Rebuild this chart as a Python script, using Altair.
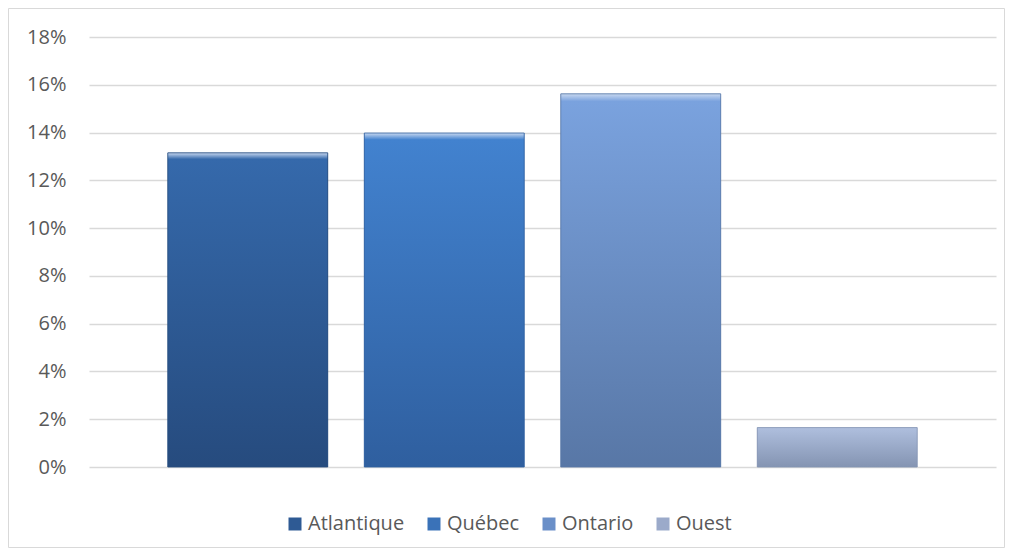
import altair as alt
import pandas as pd

regions = ["Atlantique", "Québec", "Ontario", "Ouest"]
values = [0.1315, 0.1398, 0.1562, 0.0165]
flat_colors = ["#2E5A94", "#3A72B8", "#6A8FC8", "#9BAACA"]
top_colors = ["#3569AB", "#4282CF", "#7AA2DE", "#AEBEDD"]
bottom_colors = ["#264B7E", "#2F5F9F", "#5877A6", "#8494B2"]
y_ticks = [0, 0.02, 0.04, 0.06, 0.08, 0.10, 0.12, 0.14, 0.16, 0.18]

df = pd.DataFrame({"region": regions, "value": values})

FONT = "Open Sans"
TXT = "#595959"

x_enc = alt.X("region:N", sort=regions, axis=None,
              scale=alt.Scale(paddingInner=0.186, paddingOuter=0.401))
y_enc = alt.Y("value:Q",
              scale=alt.Scale(domain=[0, 0.18], nice=False),
              axis=alt.Axis(values=y_ticks, format=".0%", title=None,
                            domain=False, ticks=False, labelPadding=23,
                            labelFont=FONT, labelFontSize=20, labelColor=TXT,
                            grid=True, gridColor="#D9D9D9", gridWidth=1.3))

base = alt.Chart(df).mark_bar().encode(
    x=x_enc,
    y=y_enc,
    color=alt.Color("region:N", sort=regions,
                    scale=alt.Scale(domain=regions, range=flat_colors),
                    legend=alt.Legend(orient="none", legendX=196, legendY=477,
                                      direction="horizontal",
                                      title=None, symbolType="square",
                                      symbolSize=169, symbolStrokeWidth=0,
                                      labelFont=FONT, labelFontSize=20,
                                      labelColor=TXT, labelOffset=3,
                                      columnPadding=19)),
)

layers = [base]
for r, t, b in zip(regions, top_colors, bottom_colors):
    grad = alt.LinearGradient(
        gradient="linear", x1=0, y1=0, x2=0, y2=1,
        stops=[alt.GradientStop(color="#C8D8F0", offset=0),
               alt.GradientStop(color=t, offset=0.02),
               alt.GradientStop(color=b, offset=1)])
    layers.append(
        alt.Chart(df).transform_filter(alt.datum.region == r)
        .mark_bar(color=grad, stroke=b, strokeWidth=0.8)
        .encode(x=x_enc, y=alt.Y("value:Q"))
    )

border = alt.Chart(alt.Data(values=[{"a": 1}])).mark_rect(
    fillOpacity=0, stroke="#D9D9D9", strokeWidth=1
).encode(
    x=alt.value(-80.5), x2=alt.value(915.5),
    y=alt.value(-28.5), y2=alt.value(510.5),
)

chart = alt.layer(*layers, border).properties(
    width=907, height=430
).configure(padding=0).configure_view(stroke=None)

chart.save("out.html", embed_options={"renderer": "svg", "actions": False})
